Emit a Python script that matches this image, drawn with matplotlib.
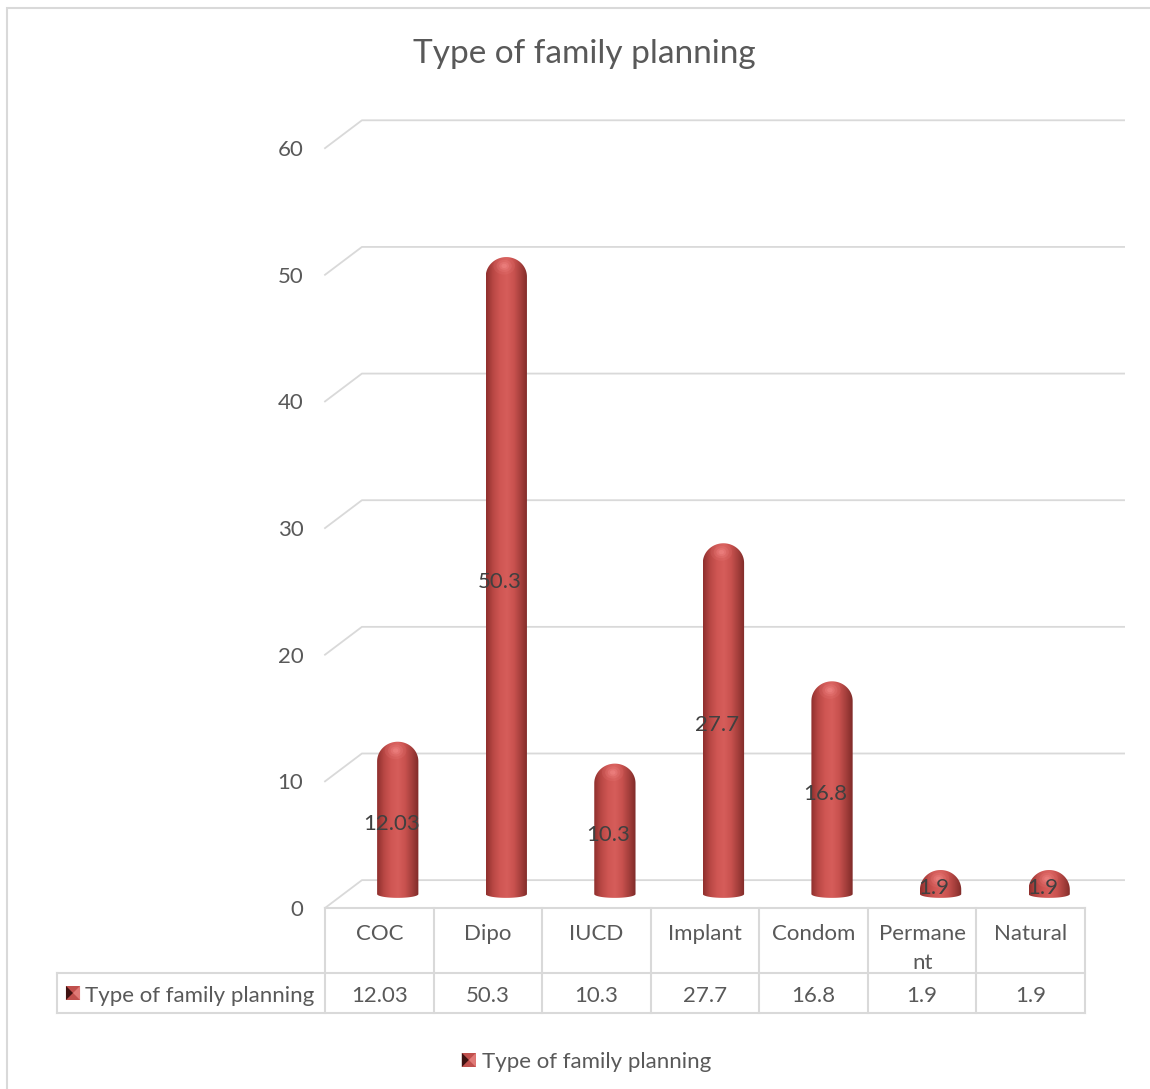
import numpy as np
import matplotlib
matplotlib.use("Agg")
import matplotlib.pyplot as plt
from matplotlib.path import Path
from matplotlib.patches import PathPatch, Rectangle, Polygon, Ellipse
from matplotlib.colors import LinearSegmentedColormap

plt.rcParams["font.family"] = ["Lato", "DejaVu Sans"]

categories = ["COC", "Dipo", "IUCD", "Implant", "Condom", "Permane\nnt", "Natural"]
values = [12.03, 50.3, 10.3, 27.7, 16.8, 1.9, 1.9]
value_text = ["12.03", "50.3", "10.3", "27.7", "16.8", "1.9", "1.9"]
series_name = "Type of family planning"
y_ticks = [0, 10, 20, 30, 40, 50, 60]

TXT = "#595959"
GRID = "#d9d9d9"
FS = 16

# pseudo-3d geometry (in data units)
DX, DY = 0.34, 2.2        # shift of the back wall
BAR_DX, BASE = 0.17, 1.1  # bar centre shift / floor level at mid depth
HALF_W = 0.19             # half bar width
CAP_B = 1.55              # vertical radius of the rounded top
FOOT_B = 0.3              # vertical radius of the base ellipse
ASPECT = 8.57             # y units per x unit for equal pixels

fig = plt.figure(figsize=(11.5, 10.89), dpi=100)
ax = fig.add_axes([325 / 1150, 1 - 908 / 1089, 760 / 1150, 810.5 / 1089])
ax.set_xlim(-0.5, 6.5)
ax.set_ylim(0, 64)
ax.axis("off")

# back wall grid with the slanted side lines
for t in y_ticks:
    ax.plot([-0.5, -0.5 + DX, 6.5 + DX + 0.02], [t, t + DY, t + DY],
            color=GRID, lw=1.3, clip_on=False, zorder=1)
    ax.text(-0.7, t - 0.15, str(t), ha="right", va="center", fontsize=FS,
            color=TXT)

# horizontal shading for the cylinders
shade = LinearSegmentedColormap.from_list(
    "cyl", ["#8e2f2d", "#b84744", "#cf5653", "#d65d5a", "#c9524f",
            "#a53f3c", "#7e2a28"])
grad = np.linspace(0, 1, 256)[None, :]


def capsule(cx, top):
    """Outline of a rounded cylinder from the floor to `top`."""
    b = min(CAP_B, top - BASE)
    yc = top - b
    th = np.linspace(0, np.pi, 60)
    cap = np.column_stack([cx + HALF_W * np.cos(th), yc + b * np.sin(th)])
    th2 = np.linspace(np.pi, 2 * np.pi, 60)
    foot = np.column_stack([cx + HALF_W * np.cos(th2), BASE + FOOT_B * np.sin(th2)])
    pts = np.vstack([cap, foot, cap[:1]])
    return Path(pts, closed=True), b


for i, (v, lab) in enumerate(zip(values, value_text)):
    cx = i + BAR_DX
    top = BASE + v
    path, b = capsule(cx, top)
    patch = PathPatch(path, facecolor="none", edgecolor="none", zorder=3)
    ax.add_patch(patch)
    im = ax.imshow(grad, cmap=shade, aspect="auto", zorder=3,
                   extent=[cx - HALF_W, cx + HALF_W, BASE - FOOT_B, top],
                   interpolation="bicubic")
    im.set_clip_path(patch)
    # soft highlight on the dome
    hx, hy = cx - 0.02, top - b * 0.45
    for r, a in [(0.10, 0.10), (0.07, 0.14), (0.045, 0.2), (0.025, 0.25)]:
        e = Ellipse((hx, hy), 2 * r, 2 * r * ASPECT * 0.8,
                    facecolor="#ff9a9a", alpha=a, edgecolor="none", zorder=4)
        e.set_clip_path(patch)
        ax.add_patch(e)
    ax.text(i + 0.11, v / 2 + 0.6, lab, ha="center", va="center",
            fontsize=FS, color="#404040", zorder=6)

# data table under the plot
row1, row2 = -5.13, -8.29
left_cell = -2.97
lk = dict(color=GRID, lw=1.5, clip_on=False, zorder=1)
ax.plot([-0.5, 6.5], [0, 0], **lk)
ax.plot([left_cell, 6.5], [row1, row1], **lk)
ax.plot([left_cell, 6.5], [row2, row2], **lk)
ax.plot([left_cell, left_cell], [row1, row2], **lk)
for k in range(8):
    ax.plot([k - 0.5, k - 0.5], [0, row2], **lk)
for i, (c, lab) in enumerate(zip(categories, value_text)):
    ax.text(i, -1.3, c, ha="center", va="top", fontsize=FS, color=TXT,
            linespacing=1.55)
    ax.text(i, (row1 + row2) / 2 - 0.2, lab, ha="center", va="center",
            fontsize=FS, color=TXT)


def key(x0, yc, s):
    # small bevelled legend key
    h = s * ASPECT
    y0 = yc - h / 2
    ax.add_patch(Rectangle((x0, y0), s, h, facecolor="#c0504d",
                           edgecolor="none", clip_on=False, zorder=5))
    ax.add_patch(Polygon([(x0, y0), (x0 + s / 2, yc), (x0, y0 + h)],
                         facecolor="#3f1211", edgecolor="none",
                         clip_on=False, zorder=5))
    ax.add_patch(Polygon([(x0 + s, y0), (x0 + s / 2, yc), (x0 + s, y0 + h)],
                         facecolor="#e07a77", edgecolor="none",
                         clip_on=False, zorder=5))


key(-2.886, (row1 + row2) / 2, 0.13)
ax.text(-2.71, (row1 + row2) / 2 - 0.2, series_name, ha="left", va="center",
        fontsize=FS, color=TXT)

# legend
key(0.76, -12.0, 0.13)
ax.text(0.945, -12.15, series_name, ha="left", va="center", fontsize=FS,
        color=TXT)

fig.text(0.508, 1 - 54 / 1089, "Type of family planning", ha="center",
         va="center", fontsize=24, color=TXT)

# chart area border
fig.add_artist(Rectangle((7 / 1150, -0.01), 1.05, 1 - 8 / 1089 + 0.01,
                         transform=fig.transFigure, facecolor="none",
                         edgecolor=GRID, lw=1.5))

fig.savefig("out.png", dpi=100)
